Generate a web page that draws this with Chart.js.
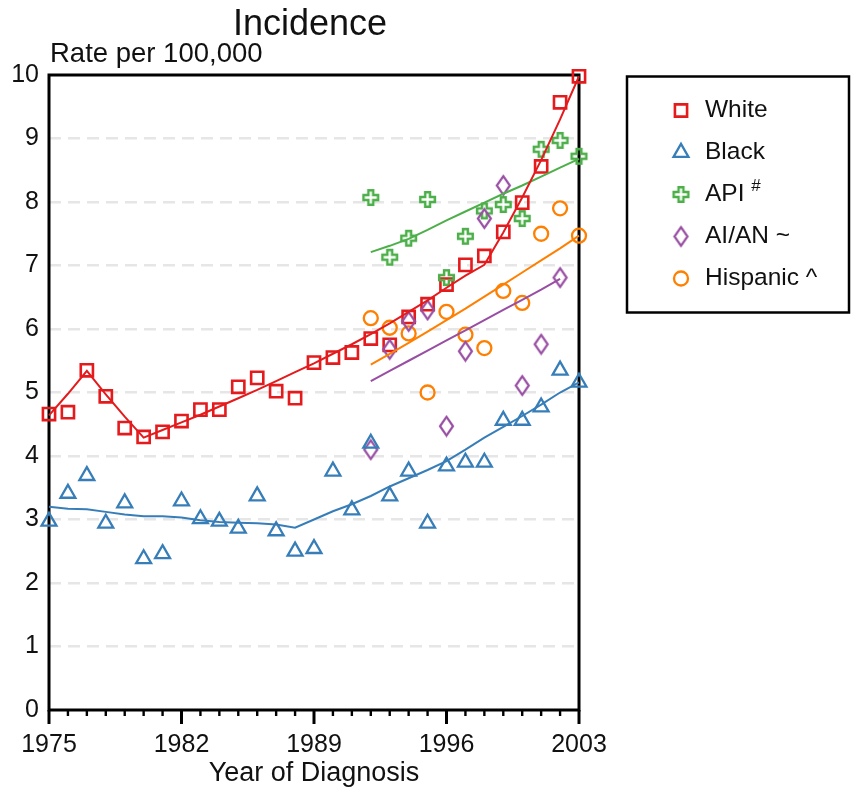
<!DOCTYPE html>
<html>
<head>
<meta charset="utf-8">
<script src="https://cdn.jsdelivr.net/npm/chart.js@4.4.0/dist/chart.umd.min.js"></script>
<style>
html, body { margin: 0; padding: 0; background: #fff; }
#wrap { width: 851px; height: 790px; }
</style>
</head>
<body>
<div id="wrap"><canvas id="incidence"></canvas></div>
<script>
// years of diagnosis
const years = [1975, 1976, 1977, 1978, 1979, 1980, 1981, 1982, 1983, 1984, 1985, 1986, 1987, 1988, 1989,
	1990, 1991, 1992, 1993, 1994, 1995, 1996, 1997, 1998, 1999, 2000, 2001, 2002, 2003];
const recentYears = [1992, 1993, 1994, 1995, 1996, 1997, 1998, 1999, 2000, 2001, 2002, 2003];
const aianYears = [1992, 1993, 1994, 1995, 1996, 1997, 1998, 1999, 2000, 2001, 2002];
const xLabels = [1975, 1982, 1989, 1996, 2003];

// observed rates per 100,000
const white = [4.66, 4.69, 5.35, 4.94, 4.44, 4.30, 4.38, 4.55, 4.73, 4.73, 5.09, 5.23, 5.02, 4.91, 5.47,
	5.55, 5.63, 5.85, 5.75, 6.19, 6.39, 6.70, 7.01, 7.15, 7.53, 7.99, 8.56, 9.57, 9.98];
const black = [2.97, 3.41, 3.69, 2.94, 3.26, 2.38, 2.46, 3.29, 3.01, 2.97, 2.86, 3.37, 2.82, 2.50, 2.54,
	3.76, 3.15, 4.20, 3.37, 3.76, 2.94, 3.84, 3.90, 3.90, 4.56, 4.56, 4.77, 5.35, 5.16];
const api = [8.07, 7.13, 7.43, 8.04, 6.81, 7.46, 7.86, 7.96, 7.74, 8.83, 8.97, 8.72];
const aian = [4.10, 5.68, 6.12, 6.30, 4.47, 5.65, 7.74, 8.26, 5.11, 5.76, 6.81];
const hispanic = [6.17, 6.02, 5.93, 5.00, 6.27, 5.91, 5.70, 6.60, 6.41, 7.50, 7.90, 7.47];

// fitted trend lines
const whiteFit = [4.64, 4.98, 5.34, 4.97, 4.62, 4.29, 4.41, 4.53, 4.65, 4.78, 4.91, 5.04, 5.18, 5.32, 5.46,
	5.61, 5.76, 5.92, 6.09, 6.27, 6.45, 6.65, 6.84, 7.01, 7.52, 8.07, 8.66, 9.30, 9.98];
const blackFit = [3.20, 3.17, 3.16, 3.12, 3.08, 3.05, 3.05, 3.03, 2.99, 2.96, 2.95, 2.94, 2.92, 2.87, 3.00,
	3.13, 3.24, 3.37, 3.52, 3.65, 3.78, 3.92, 4.10, 4.29, 4.46, 4.63, 4.81, 5.00, 5.16];
const apiFit = [7.21, 7.31, 7.42, 7.56, 7.71, 7.85, 7.99, 8.13, 8.26, 8.40, 8.54, 8.68];
const aianFit = [5.18, 5.34, 5.50, 5.66, 5.82, 5.98, 6.14, 6.30, 6.46, 6.62, 6.79];
const hispanicFit = [5.44, 5.61, 5.78, 5.96, 6.14, 6.32, 6.51, 6.70, 6.89, 7.08, 7.27, 7.47];

const legendNames = ['White', 'Black', 'API', 'AI/AN ~', 'Hispanic ^'];
const colors = ['#e41a1c', '#377eb8', '#4daf4a', '#984ea3', '#ff7f00'];
const fontFamily = "'Liberation Sans', Arial, sans-serif";

function pairs(xs, ys) {
	return xs.map(function(x, i) { return {x: x, y: ys[i]}; });
}

function crossMarker(color) {
	let c = document.createElement('canvas');
	c.width = 21; c.height = 21;
	let g = c.getContext('2d');
	let m = 10.5, a = 2.4, e = 7.3;
	g.beginPath();
	g.moveTo(m - a, m - e); g.lineTo(m + a, m - e); g.lineTo(m + a, m - a);
	g.lineTo(m + e, m - a); g.lineTo(m + e, m + a); g.lineTo(m + a, m + a);
	g.lineTo(m + a, m + e); g.lineTo(m - a, m + e); g.lineTo(m - a, m + a);
	g.lineTo(m - e, m + a); g.lineTo(m - e, m - a); g.lineTo(m - a, m - a);
	g.closePath();
	g.lineWidth = 2.5;
	g.strokeStyle = color;
	g.stroke();
	return c;
}

function diamondMarker(color) {
	let c = document.createElement('canvas');
	c.width = 19; c.height = 23;
	let g = c.getContext('2d');
	g.beginPath();
	g.moveTo(9.5, 2.2); g.lineTo(16, 11.5); g.lineTo(9.5, 20.8); g.lineTo(3, 11.5);
	g.closePath();
	g.lineWidth = 2.2;
	g.strokeStyle = color;
	g.stroke();
	return c;
}

const markerStyles = [
	{pointStyle: 'rect', radius: 8.6, borderWidth: 2.6},
	{pointStyle: 'triangle', radius: 8.6, borderWidth: 2.3},
	{pointStyle: crossMarker(colors[2]), radius: 8, borderWidth: 0},
	{pointStyle: diamondMarker(colors[3]), radius: 8, borderWidth: 0},
	{pointStyle: 'circle', radius: 7, borderWidth: 2.3}
];

function fitLine(data, color) {
	return {
		data: data, borderColor: color, borderWidth: 2, pointRadius: 0,
		showLine: true, fill: false, tension: 0, clip: false
	};
}

function markers(data, i) {
	let s = markerStyles[i];
	return {
		data: data, showLine: false, borderColor: colors[i], backgroundColor: 'rgba(0,0,0,0)',
		pointStyle: s.pointStyle, pointRadius: s.radius, pointBorderWidth: s.borderWidth, clip: false
	};
}

const framePlugin = {
	id: 'frame',
	beforeDatasetsDraw: function(chart) {
		let ctx = chart.ctx, a = chart.chartArea, x = chart.scales.x;
		ctx.save();
		ctx.strokeStyle = '#000';
		ctx.lineWidth = 3;
		ctx.strokeRect(a.left, a.top, a.right - a.left, a.bottom - a.top);
		x.ticks.forEach(function(t) {
			let px = x.getPixelForValue(t.value);
			let major = xLabels.indexOf(t.value) >= 0;
			ctx.lineWidth = major ? 3 : 2.4;
			ctx.beginPath();
			ctx.moveTo(px, a.bottom);
			ctx.lineTo(px, a.bottom + (major ? 14 : 6));
			ctx.stroke();
		});
		ctx.restore();
	}
};

const textPlugin = {
	id: 'texts',
	afterDraw: function(chart) {
		let ctx = chart.ctx;
		ctx.save();
		ctx.fillStyle = '#111';
		ctx.textBaseline = 'alphabetic';
		ctx.font = '36px ' + fontFamily;
		ctx.textAlign = 'center';
		ctx.fillText('Incidence', 310, 35);
		ctx.font = '27.5px ' + fontFamily;
		ctx.textAlign = 'left';
		ctx.fillText('Rate per 100,000', 50, 62);

		// legend
		ctx.strokeStyle = '#000';
		ctx.lineWidth = 2.5;
		ctx.strokeRect(627, 76.5, 222, 236);
		legendNames.forEach(function(name, i) {
			let y = 110.5 + i * 42;
			let s = markerStyles[i];
			ctx.strokeStyle = colors[i];
			ctx.fillStyle = 'rgba(0,0,0,0)';
			ctx.lineWidth = s.borderWidth;
			Chart.helpers.drawPoint(ctx, {pointStyle: s.pointStyle, radius: s.radius, borderWidth: s.borderWidth, rotation: 0}, 681, y);
			ctx.fillStyle = '#111';
			ctx.textBaseline = 'middle';
			ctx.font = '24.5px ' + fontFamily;
			ctx.fillText(name, 705, y);
			if (name === 'API') {
				let w = ctx.measureText('API ').width;
				ctx.font = '17px ' + fontFamily;
				ctx.fillText('#', 705 + w, y - 8);
			}
		});
		ctx.restore();
	}
};

const datasets = [
	fitLine(pairs(years, whiteFit), colors[0]),
	fitLine(pairs(years, blackFit), colors[1]),
	fitLine(pairs(recentYears, apiFit), colors[2]),
	fitLine(pairs(aianYears, aianFit), colors[3]),
	fitLine(pairs(recentYears, hispanicFit), colors[4]),
	markers(pairs(years, black), 1),
	markers(pairs(aianYears, aian), 3),
	markers(pairs(recentYears, hispanic), 4),
	markers(pairs(recentYears, api), 2),
	markers(pairs(years, white), 0)
];

new Chart(document.getElementById('incidence'), {
	type: 'scatter',
	data: {datasets: datasets},
	plugins: [framePlugin, textPlugin],
	options: {
		responsive: true,
		maintainAspectRatio: false,
		animation: false,
		events: [],
		layout: {padding: {top: 75, right: 272, left: 0, bottom: 0}},
		plugins: {legend: {display: false}, tooltip: {enabled: false}},
		scales: {
			x: {
				type: 'linear', min: 1975, max: 2003,
				grid: {display: false, drawTicks: false, tickLength: 0},
				border: {display: false},
				ticks: {
					stepSize: 1, autoSkip: false, maxRotation: 0, padding: 20,
					color: '#111', font: {family: fontFamily, size: 25},
					callback: function(v) { return xLabels.indexOf(v) >= 0 ? String(v) : ''; }
				},
				title: {
					display: true, text: 'Year of Diagnosis', color: '#111',
					font: {family: fontFamily, size: 27}, padding: {top: 0, bottom: 0}
				},
				afterFit: function(scale) { scale.height = 80; }
			},
			y: {
				min: 0, max: 10,
				grid: {
					drawTicks: false, tickLength: 0, lineWidth: 2.5,
					color: function(c) { return (c.tick && (c.tick.value === 0 || c.tick.value === 10)) ? 'rgba(0,0,0,0)' : '#e6e6e6'; }
				},
				border: {display: false, dash: [12, 7]},
				ticks: {
					stepSize: 1, padding: 10, color: '#111',
					font: {family: fontFamily, size: 25}
				},
				afterFit: function(scale) { scale.width = 49; }
			}
		}
	}
});
</script>
</body>
</html>
